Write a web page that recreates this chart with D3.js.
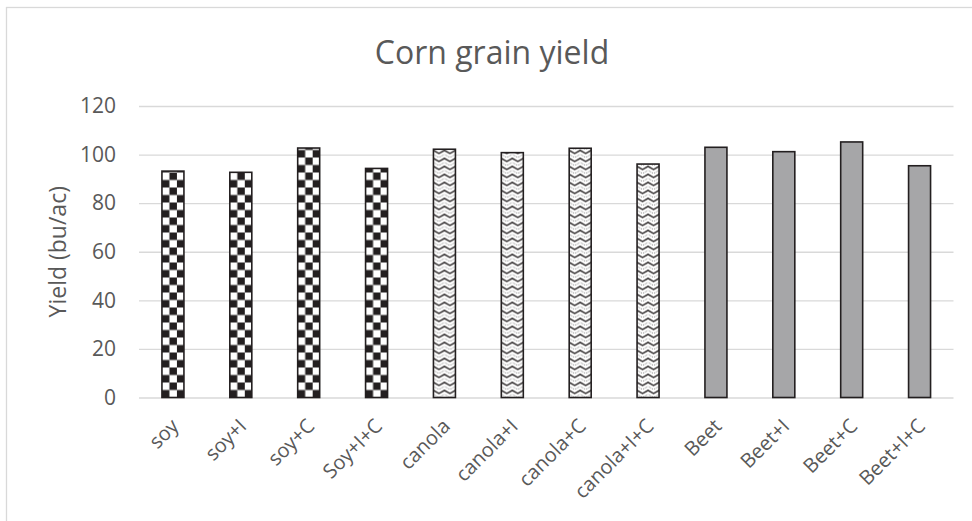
<!DOCTYPE html>
<html>
<head>
<meta charset="utf-8">
<script src="https://cdn.jsdelivr.net/npm/d3@7"></script>
<style>
  html, body { margin: 0; padding: 0; background: #fff; }
  svg { display: block; }
  text { font-family: "Open Sans", sans-serif; fill: #595959; }
</style>
</head>
<body>
<svg id="chart" width="972" height="521"></svg>
<script>
// ---- data ----
const categories = ["soy", "soy+I", "soy+C", "Soy+I+C", "canola", "canola+I", "canola+C", "canola+I+C", "Beet", "Beet+I", "Beet+C", "Beet+I+C"];
const yields = [93.2, 92.7, 102.7, 94.3, 102.2, 100.8, 102.6, 96.1, 103.0, 101.2, 105.2, 95.4];
const groups = ["soy", "soy", "soy", "soy", "canola", "canola", "canola", "canola", "beet", "beet", "beet", "beet"];
const yTicks = [0, 20, 40, 60, 80, 100, 120];
const titleText = "Corn grain yield";
const yAxisTitle = "Yield (bu/ac)";

// ---- layout ----
const plot = { left: 139, right: 953.5, top: 106, bottom: 397.5 };
const svg = d3.select("#chart");

// chart area border (extends beyond the visible frame on right and bottom)
svg.append("rect")
  .attr("x", 6.5).attr("y", 7.5)
  .attr("width", 1000).attr("height", 1000)
  .attr("fill", "#fff").attr("stroke", "#d9d9d9").attr("stroke-width", 1.3);

// patterns
const defs = svg.append("defs");
const ck = 7.5;
const checker = defs.append("pattern")
  .attr("id", "checker").attr("patternUnits", "userSpaceOnUse")
  .attr("width", ck * 2).attr("height", ck * 2);
checker.append("rect").attr("width", ck * 2).attr("height", ck * 2).attr("fill", "#fff");
checker.append("rect").attr("x", 0).attr("y", ck).attr("width", ck).attr("height", ck).attr("fill", "#231f20");
checker.append("rect").attr("x", ck).attr("y", 0).attr("width", ck).attr("height", ck).attr("fill", "#231f20");

const zw = 11, zh = 8;
const zig = defs.append("pattern")
  .attr("id", "zigzag").attr("patternUnits", "userSpaceOnUse")
  .attr("width", zw).attr("height", zh);
zig.append("rect").attr("width", zw).attr("height", zh).attr("fill", "#fff");
zig.append("path")
  .attr("d", `M-1,0.3 L${zw/2},4 L${zw+1},0.3`)
  .attr("fill", "none").attr("stroke", "#231f20").attr("stroke-width", 1.4)
  .attr("stroke-linejoin", "miter");
zig.append("path")
  .attr("d", `M-1,4.3 L${zw/2},8 L${zw+1},4.3`)
  .attr("fill", "none").attr("stroke", "#7a7a7a").attr("stroke-width", 0.9)
  .attr("stroke-dasharray", "1.5,1.2");

const fills = { soy: "url(#checker)", canola: "url(#zigzag)", beet: "#a6a6a8" };

// scales
const x = d3.scaleBand().domain(categories).range([plot.left, plot.right]).paddingInner(0.676).paddingOuter(0.338);
const y = d3.scaleLinear().domain([0, 120]).range([plot.bottom, plot.top]);

// gridlines + tick labels
const yAxis = d3.axisLeft(y).tickValues(yTicks).tickSize(-(plot.right - plot.left)).tickPadding(23);
const gy = svg.append("g").attr("transform", `translate(${plot.left},0)`).call(yAxis);
gy.select(".domain").remove();
gy.selectAll(".tick line").attr("stroke", "#d9d9d9").attr("stroke-width", 1.3);
gy.selectAll(".tick text").style("font-size", "21px").style("font-family", "'Open Sans', sans-serif").attr("fill", "#595959");

// bars: each in a group anchored at bar left/bottom so pattern aligns
const bars = svg.append("g").selectAll("g").data(categories).join("g")
  .attr("transform", d => `translate(${x(d)},${y(0)})`);
bars.append("rect")
  .attr("x", 0)
  .attr("y", (d, i) => y(yields[i]) - y(0))
  .attr("width", x.bandwidth())
  .attr("height", (d, i) => y(0) - y(yields[i]))
  .attr("fill", (d, i) => fills[groups[i]])
  .attr("stroke", "#231f20").attr("stroke-width", 1.6);

// x labels
svg.append("g").selectAll("text").data(categories).join("text")
  .attr("transform", d => `translate(${x(d) + x.bandwidth() / 2 + 2},${plot.bottom + 25}) rotate(-45)`)
  .attr("text-anchor", "end")
  .attr("dy", "0.35em")
  .style("font-size", "20px")
  .text(d => d);

// title
svg.append("text")
  .attr("x", 492).attr("y", 64)
  .attr("text-anchor", "middle")
  .style("font-size", "32px")
  .text(titleText);

// y axis title
svg.append("text")
  .attr("transform", `translate(66,${(plot.top + plot.bottom) / 2}) rotate(-90)`)
  .attr("text-anchor", "middle")
  .style("font-size", "23px")
  .text(yAxisTitle);
</script>
</body>
</html>
